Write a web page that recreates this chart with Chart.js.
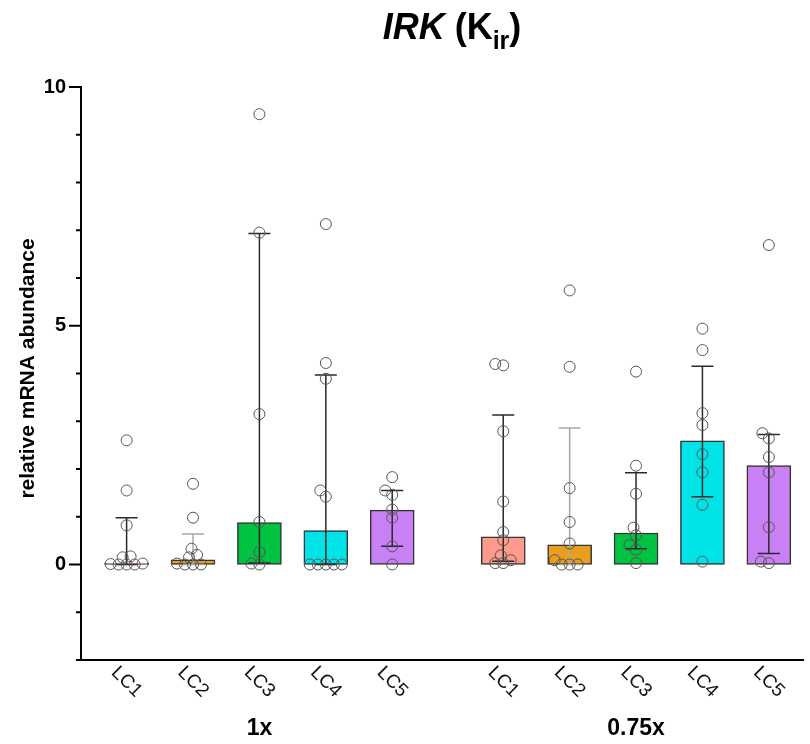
<!DOCTYPE html>
<html><head><meta charset="utf-8">
<script src="https://cdn.jsdelivr.net/npm/chart.js@4.4.1/dist/chart.umd.min.js"></script>
<style>html,body{margin:0;padding:0;background:#fff}#wrap{width:810px;height:744px;position:relative}</style>
</head><body><div id="wrap"><canvas id="c" width="810" height="744"></canvas></div>
<script>
// ---- data ----
const groups = ['1x', '0.75x'];
const lines = ['LC1', 'LC2', 'LC3', 'LC4', 'LC5'];
const yTickLabels = ['0', '5', '10'];
const titleMain = 'IRK';
const titleOpen = ' (K';
const titleSub = 'ir';
const titleClose = ')';
const yTitle = 'relative mRNA abundance';
// bar heights (median)
const median1x = [0.03, 0.10, 0.88, 0.71, 1.14];
const median075x = [0.58, 0.41, 0.66, 2.59, 2.07];
// error bars (interquartile range)
const low1x = [0, 0, 0.03, 0, 0.38];
const high1x = [0.98, 0.64, 6.93, 3.97, 1.55];
const low075x = [0.07, 0, 0.33, 1.42, 0.23];
const high075x = [3.13, 2.86, 1.92, 4.15, 2.72];
// individual replicates
const pts1x = [
  [2.60, 1.55, 0.82, 0.17, 0.15, 0.02, 0.01, 0, 0, 0],
  [1.69, 0.98, 0.33, 0.20, 0.15, 0.02, 0, 0, 0],
  [9.43, 6.95, 3.15, 0.89, 0.26, 0.02, 0],
  [7.13, 4.22, 3.89, 1.55, 1.42, 0, 0, 0, 0, 0],
  [1.83, 1.55, 1.46, 1.15, 0.98, 0.38, 0]
];
const pts075x = [
  [4.20, 4.17, 2.79, 1.32, 0.68, 0.51, 0.19, 0.09, 0.03, 0.03],
  [5.74, 4.14, 1.60, 0.89, 0.44, 0.09, 0, 0, 0],
  [4.04, 2.07, 1.48, 0.77, 0.61, 0.41, 0.31, 0.03],
  [4.94, 4.49, 3.17, 2.92, 2.31, 1.93, 1.25, 0.06],
  [6.69, 2.75, 2.64, 2.25, 1.93, 0.78, 0.06, 0.03]
];

// ---- layout / style ----
const barColors = ['#FF9A8C', '#E99E1C', '#00C341', '#00E4E8', '#C880F5'];
const errColors = ['#2a2a2a', '#a8a8a8', '#2a2a2a', '#2a2a2a', '#2a2a2a'];
const GROUP_GAP = 1.672;
const FONT = '"Liberation Sans", Arial, Helvetica, sans-serif';

const medians = [median1x, median075x];
const lows = [low1x, low075x];
const highs = [high1x, high075x];
const pts = [pts1x, pts075x];

const cats = [];
groups.forEach((g, gi) => {
  lines.forEach((l, li) => {
    cats.push({
      group: gi, line: li, label: l,
      pos: gi * (lines.length - 1 + GROUP_GAP) + li,
      med: medians[gi][li], lo: lows[gi][li], hi: highs[gi][li],
      pts: pts[gi][li]
    });
  });
});

const barData = cats.map(c => ({ x: c.pos, y: c.med }));
const scatterData = [];
const scatterOwner = [];
cats.forEach((c, ci) => c.pts.forEach(v => { scatterData.push({ x: c.pos, y: v }); scatterOwner.push(ci); }));

const overlay = {
  id: 'overlay',
  afterDatasetDraw(chart, args) {
    if (args.index !== 0) return;
    const { ctx, scales: { x, y } } = chart;
    ctx.save();
    ctx.lineWidth = 1.5;
    cats.forEach(c => {
      const px = x.getPixelForValue(c.pos);
      const lo = y.getPixelForValue(c.lo), hi = y.getPixelForValue(c.hi);
      ctx.strokeStyle = errColors[c.line];
      ctx.beginPath();
      ctx.moveTo(px, lo); ctx.lineTo(px, hi);
      ctx.moveTo(px - 11, hi); ctx.lineTo(px + 11, hi);
      ctx.moveTo(px - 11, lo); ctx.lineTo(px + 11, lo);
      ctx.stroke();
    });
    ctx.restore();
  },
  afterDraw(chart) {
    const { ctx, chartArea, scales: { x, y } } = chart;
    ctx.save();
    // y ticks
    ctx.strokeStyle = '#000';
    ctx.lineWidth = 2;
    for (let v = y.min; v <= y.max; v++) {
      const py = y.getPixelForValue(v);
      const len = (v % 5 === 0) ? 12 : 5;
      ctx.beginPath();
      ctx.moveTo(chartArea.left - len, py);
      ctx.lineTo(chartArea.left, py);
      ctx.stroke();
    }
    // x category labels, rotated
    ctx.fillStyle = '#111';
    ctx.font = '19px ' + FONT;
    ctx.textAlign = 'center';
    ctx.textBaseline = 'middle';
    cats.forEach(c => {
      const px = x.getPixelForValue(c.pos);
      ctx.save();
      ctx.translate(px, chartArea.bottom + 22);
      ctx.rotate(Math.PI / 4);
      ctx.fillText(c.label, 0, 0);
      ctx.restore();
    });
    // group labels
    ctx.fillStyle = '#000';
    ctx.font = 'bold 23px ' + FONT;
    groups.forEach((g, gi) => {
      const mid = cats.filter(c => c.group === gi);
      const px = (x.getPixelForValue(mid[0].pos) + x.getPixelForValue(mid[mid.length - 1].pos)) / 2;
      ctx.fillText(g, px, chartArea.bottom + 69);
    });
    // y title
    ctx.save();
    ctx.font = 'bold 21px ' + FONT;
    ctx.translate(28, (chartArea.top + chartArea.bottom) / 2 - 5);
    ctx.rotate(-Math.PI / 2);
    ctx.fillText(yTitle, 0, 0);
    ctx.restore();
    // title with italic part and subscript
    const segs = [
      { t: titleMain, f: 'italic bold 36px ' + FONT, dy: 0 },
      { t: titleOpen, f: 'bold 36px ' + FONT, dy: 0 },
      { t: titleSub, f: 'bold 25px ' + FONT, dy: 10 },
      { t: titleClose, f: 'bold 36px ' + FONT, dy: 0 }
    ];
    let total = 0;
    segs.forEach(s => { ctx.font = s.f; s.w = ctx.measureText(s.t).width; total += s.w; });
    let tx = 452 - total / 2;
    ctx.textAlign = 'left';
    ctx.textBaseline = 'alphabetic';
    segs.forEach(s => { ctx.font = s.f; ctx.fillText(s.t, tx, 39 + s.dy); tx += s.w; });
    ctx.restore();
  }
};

const chart = new Chart(document.getElementById('c'), {
  type: 'bar',
  data: {
    datasets: [
      {
        type: 'bar', data: barData, order: 2,
        backgroundColor: cats.map(c => barColors[c.line]),
        borderColor: '#333', borderWidth: 1.5, barThickness: 44, borderSkipped: false
      },
      {
        type: 'scatter', data: scatterData, order: 1, clip: false,
        pointRadius: 5.5, pointHoverRadius: 5.5, pointBorderWidth: 1,
        pointBorderColor: '#555', pointBackgroundColor: 'rgba(255,255,255,0)', showLine: false
      }
    ]
  },
  options: {
    responsive: false, animation: false, devicePixelRatio: 1,
    layout: { padding: { top: 87, left: 0, right: 0, bottom: 0 } },
    plugins: { legend: { display: false }, tooltip: { enabled: false }, title: { display: false } },
    scales: {
      x: {
        type: 'linear', min: -0.687, max: 10.194, offset: false,
        ticks: { display: false },
        grid: { display: false, drawTicks: false },
        border: { display: true, color: '#000', width: 2 },
        afterFit(s) { s.height = 84; }
      },
      y: {
        type: 'linear', min: -2, max: 10,
        ticks: {
          stepSize: 1, autoSkip: false, padding: 15, color: '#000',
          font: { family: FONT, size: 20, weight: 'bold' },
          callback: v => yTickLabels.includes(String(v)) ? String(v) : ''
        },
        grid: { display: false, drawTicks: false },
        border: { display: true, color: '#000', width: 2 },
        afterFit(s) { s.width = 81; }
      }
    }
  },
  plugins: [overlay]
});

// beeswarm-style spreading of replicate points computed in pixel space
(function spread() {
  const xs = chart.scales.x, ys = chart.scales.y;
  const pxPerUnit = xs.getPixelForValue(1) - xs.getPixelForValue(0);
  const D = 8;
  cats.forEach((c, ci) => {
    const idx = [];
    scatterOwner.forEach((o, k) => { if (o === ci) idx.push(k); });
    const items = idx.map(k => ({ k, py: ys.getPixelForValue(scatterData[k].y) }))
      .sort((a, b) => b.py - a.py);
    const placed = [];
    items.forEach(p => {
      for (let n = 0; n < 600; n++) {
        const dx = n === 0 ? 0 : (n % 2 === 1 ? -1 : 1) * Math.ceil(n / 2) * 0.5;
        let ok = true;
        for (const q of placed) {
          const a = dx - q.dx, b = p.py - q.py;
          if (a * a + b * b < D * D - 1e-6) { ok = false; break; }
        }
        if (ok) { placed.push({ dx, py: p.py }); scatterData[p.k].x = c.pos + dx / pxPerUnit; break; }
      }
    });
  });
  chart.update('none');
})();
</script>
</body></html>
